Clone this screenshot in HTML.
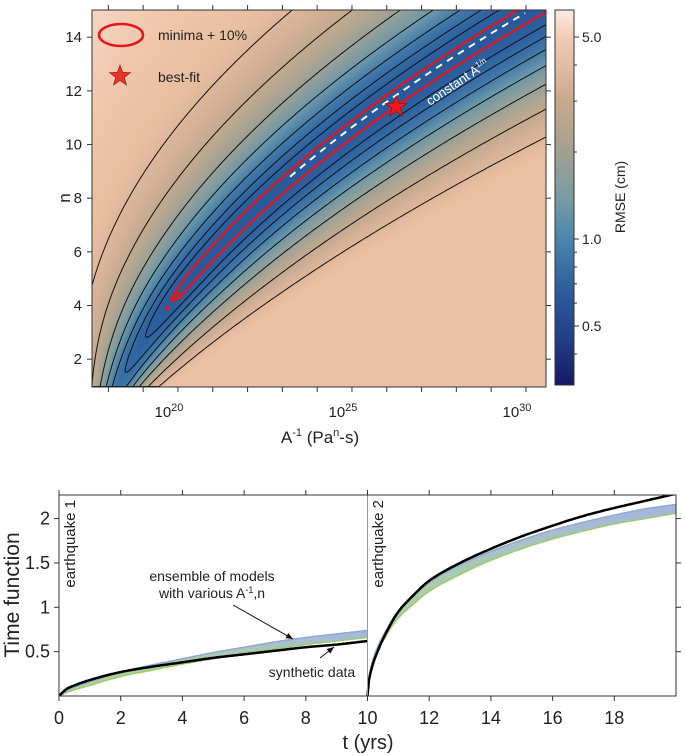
<!DOCTYPE html>
<html><head><meta charset="utf-8">
<style>
html,body{margin:0;padding:0;background:#fff;}
#wrap{position:relative;width:685px;height:755px;overflow:hidden;font-family:"Liberation Sans",sans-serif;}
#heat{position:absolute;left:92px;top:10px;}
svg{position:absolute;left:0;top:0;}
text{font-family:"Liberation Sans",sans-serif;fill:#222;}
</style></head><body>
<div id="wrap">
<canvas id="heat" width="454" height="377"></canvas>
<svg id="svg" width="685" height="755" xmlns="http://www.w3.org/2000/svg">
<defs>
<clipPath id="clipTop"><rect x="92" y="10" width="454" height="377"/></clipPath>
<clipPath id="clipBot"><rect x="59" y="495" width="617" height="201"/></clipPath>
<linearGradient id="cbGrad" x1="0" y1="0" x2="0" y2="1">
<stop offset="0" stop-color="#fcebe4"/><stop offset="0.07" stop-color="#f2cdb6"/>
<stop offset="0.24" stop-color="#c9a98c"/><stop offset="0.38" stop-color="#a2a092"/>
<stop offset="0.5" stop-color="#7a9ca4"/><stop offset="0.61" stop-color="#4a86ac"/>
<stop offset="0.75" stop-color="#2e5c9e"/><stop offset="0.88" stop-color="#213e86"/>
<stop offset="1" stop-color="#181864"/></linearGradient>
<linearGradient id="bandGrad" x1="0" y1="0" x2="0" y2="1">
<stop offset="0" stop-color="#94a8da"/><stop offset="0.35" stop-color="#9cc0a4"/><stop offset="1" stop-color="#a6d07e"/></linearGradient>
</defs>
<g id="top"></g>
<g id="bot"></g>
</svg>
</div>
<script>
// ---- top chart data ----
const valleyN=[1.5,2.8,4.5,6,8,10,11.4,15];
const valleyLogA=[18.56,19.1,20.0,20.9,22.6,24.4,26.0,30.1];
const contourLevels=[11,17,24,33,44,60,80];
const redLevel=4.8;
const bestFitLogA=26.27, bestFitN=11.4;
const xTickLogA=[20,25,30];
const xMinorLogA=[18,19,20,21,22,23,24,25,26,27,28,29,30];
const yTicksN=[2,4,6,8,10,12,14];
const cbTickVals=[5.0,1.0,0.5];
const cbTickLabels=["5.0","1.0","0.5"];
const cbMinorVals=[4,3,2,0.9,0.8,0.7,0.6,0.4];
// ---- bottom chart data ----
const t1=[0,0.25,0.5,1,2,3,4,5,6,7,8,9,10];
const synth1=[0,0.08,0.12,0.18,0.27,0.33,0.38,0.43,0.47,0.51,0.55,0.58,0.62];
const ensUp1=[0,0.06,0.1,0.16,0.27,0.35,0.42,0.49,0.55,0.61,0.66,0.7,0.74];
const ensLo1=[0,0.04,0.07,0.12,0.22,0.29,0.36,0.42,0.48,0.53,0.58,0.62,0.66];
const t2=[10,10.05,10.15,10.3,10.6,11,11.5,12,13,14,15,16,17,18,19,20];
const synth2=[0,0.18,0.33,0.48,0.71,0.95,1.14,1.3,1.5,1.66,1.8,1.92,2.03,2.12,2.2,2.28];
const ensUp2=[0,0.22,0.38,0.53,0.74,0.96,1.13,1.28,1.48,1.63,1.76,1.87,1.96,2.04,2.11,2.16];
const ensLo2=[0,0.19,0.34,0.48,0.68,0.88,1.04,1.18,1.37,1.53,1.66,1.77,1.86,1.94,2.0,2.06];
const bxTicks=[0,2,4,6,8,10,12,14,16,18];
const byTicks=[0.5,1,1.5,2];
const byTickLabels=["0.5","1","1.5","2"];

const NS="http://www.w3.org/2000/svg";
function mk(parent,tag,attrs,txt){const e=document.createElementNS(NS,tag);for(const k in attrs)e.setAttribute(k,attrs[k]);if(txt!==undefined)e.textContent=txt;parent.appendChild(e);return e;}
const topG=document.getElementById('top'), botG=document.getElementById('bot');

const xL=L=>92+(L-17.53)*34.8;
const yN=n=>386-(n-1)*26.83;
const nOfY=y=>1+(386-y)/26.83;
function smoothInterp(xs,ys,x){const k=xs.length;
 if(x<=xs[0])return ys[0]+(x-xs[0])*(ys[1]-ys[0])/(xs[1]-xs[0]);
 if(x>=xs[k-1])return ys[k-1]+(x-xs[k-1])*(ys[k-1]-ys[k-2])/(xs[k-1]-xs[k-2]);
 const d=[];for(let i=0;i<k-1;i++)d.push((ys[i+1]-ys[i])/(xs[i+1]-xs[i]));
 const m=[d[0]];for(let i=1;i<k-1;i++){m.push(d[i-1]*d[i]<=0?0:2/(1/d[i-1]+1/d[i]));}m.push(d[k-2]);
 let i=0;while(x>xs[i+1])i++;const h=xs[i+1]-xs[i],s=(x-xs[i])/h;
 const h00=2*s*s*s-3*s*s+1,h10=s*s*s-2*s*s+s,h01=-2*s*s*s+3*s*s,h11=s*s*s-s*s;
 return h00*ys[i]+h10*h*m[i]+h01*ys[i+1]+h11*h*m[i+1];}
// least-squares quadratic fit of valley
const fitQ=(function(){let S=[[0,0,0],[0,0,0],[0,0,0]],B=[0,0,0];
 valleyN.forEach((n,i)=>{const v=[1,n,n*n];for(let a=0;a<3;a++){B[a]+=v[a]*valleyLogA[i];for(let b=0;b<3;b++)S[a][b]+=v[a]*v[b];}});
 for(let c=0;c<3;c++){for(let r=c+1;r<3;r++){const f=S[r][c]/S[c][c];for(let k=c;k<3;k++)S[r][k]-=f*S[c][k];B[r]-=f*B[c];}}
 const x=[0,0,0];for(let r=2;r>=0;r--){let s=B[r];for(let k=r+1;k<3;k++)s-=S[r][k]*x[k];x[r]=s/S[r][r];}return x;})();
const cx=n=>xL(fitQ[0]+fitQ[1]*n+fitQ[2]*n*n);
const wL=n=>0.3+0.18*n, wR=n=>0.3+0.22*n;
const g=n=>Math.max(0,5.2-n)*4.6;

const stopsV=[0,12,22,32,42,55,70,90,120,150,185];
const stopsC=["#28599b","#2e62a0","#3f77a8","#6a97a8","#93a09a","#b9a78f","#d3b096","#e8bea0","#efc7ac","#f6d7c6","#fbe6dc"];
const rgb=h=>[parseInt(h.substr(1,2),16),parseInt(h.substr(3,2),16),parseInt(h.substr(5,2),16)];
const stopsRGB=stopsC.map(rgb);
function colV(v){if(v>=stopsV[stopsV.length-1])return stopsRGB[stopsRGB.length-1];
 for(let i=1;i<stopsV.length;i++){if(v<=stopsV[i]){const f=(v-stopsV[i-1])/(stopsV[i]-stopsV[i-1]);const a=stopsRGB[i-1],b=stopsRGB[i];return [a[0]+(b[0]-a[0])*f,a[1]+(b[1]-a[1])*f,a[2]+(b[2]-a[2])*f];}}}
(function(){const c=document.getElementById('heat'),ctx=c.getContext('2d');const img=ctx.createImageData(454,377);
 for(let j=0;j<377;j++){const y=10+j+0.5,n=nOfY(y),xc=cx(n),gg=g(n);
  for(let i=0;i<454;i++){const x=92+i+0.5,d=x-xc;let s=d<0?-d/wL(n):d/wR(n);let v=Math.sqrt(s*s+gg*gg);if(d>0)v=Math.min(v,100);
   const col=colV(v);const p=(j*454+i)*4;img.data[p]=col[0];img.data[p+1]=col[1];img.data[p+2]=col[2];img.data[p+3]=255;}}
 ctx.putImageData(img,0,0);})();

function contourPath(level){let left=[],right=[];
 for(let n=15.6;n>=0.98;n-=0.02){const gg=g(n);if(level<=gg)continue;const r=Math.sqrt(level*level-gg*gg);
  left.push([cx(n)-r*wL(n),yN(n)]);right.unshift([cx(n)+r*wR(n),yN(n)]);}
 const pts=left.concat(right);return 'M'+pts.map(p=>p[0].toFixed(1)+','+p[1].toFixed(1)).join('L');}
const cg=mk(topG,'g',{'clip-path':'url(#clipTop)'});
contourLevels.forEach(l=>{const e=mk(cg,'path',{d:contourPath(l),fill:'none',stroke:'#111','stroke-width':1});
 });
const red=mk(cg,'path',{d:contourPath(redLevel),fill:'none',stroke:'#e8141c','stroke-width':2.2});

const rb1=mk(cg,'path',{d:'M173,299 L177,291 L181,298 Z',fill:'none',stroke:'#e8141c','stroke-width':1.8});

const rb2=mk(cg,'ellipse',{cx:167,cy:308,rx:1.8,ry:3,fill:'#e8141c'});

let dp=[];for(let n=8.8;n<=14.9;n+=0.1)dp.push((cx(n)-2).toFixed(1)+','+yN(n).toFixed(1));
const dl=mk(cg,'path',{d:'M'+dp.join('L'),fill:'none',stroke:'#fff','stroke-width':2,'stroke-dasharray':'7,6'});

const cl=mk(topG,'text',{x:0,y:0,'font-size':13,transform:'translate(430,106) rotate(-34)',style:'fill:#fff'});

cl.innerHTML='constant A<tspan dy="-5" font-size="8">1/n</tspan>';
function starPath(x,y,R){const r=R*0.42;let p=[];for(let k=0;k<10;k++){const a=-Math.PI/2+k*Math.PI/5,rr=k%2?r:R;p.push((x+rr*Math.cos(a)).toFixed(1)+','+(y+rr*Math.sin(a)).toFixed(1));}return 'M'+p.join('L')+'Z';}
const st=mk(topG,'path',{d:starPath(xL(bestFitLogA),yN(bestFitN),11),fill:'#f01818',stroke:'#a01010','stroke-width':0.8});

const fr=mk(topG,'rect',{x:92,y:10,width:454,height:377,fill:'none',stroke:'#333','stroke-width':1});

xMinorLogA.forEach(L=>{const x=xL(L);mk(topG,'line',{x1:x,y1:387,x2:x,y2:392,stroke:'#333'});mk(topG,'line',{x1:x,y1:10,x2:x,y2:5,stroke:'#333'});});
xTickLogA.forEach(L=>{const t=mk(topG,'text',{x:xL(L)-9,y:417,'font-size':15,'text-anchor':'middle'});t.innerHTML='10<tspan dy="-6" font-size="11">'+L+'</tspan>';
 });
yTicksN.forEach(n=>{const y=yN(n);mk(topG,'line',{x1:87,y1:y,x2:92,y2:y,stroke:'#333'});mk(topG,'line',{x1:546,y1:y,x2:551,y2:y,stroke:'#333'});
 const t=mk(topG,'text',{x:82,y:y+5,'font-size':15,'text-anchor':'end'},String(n));});
const xt=mk(topG,'text',{x:320,y:443,'font-size':17,'text-anchor':'middle'});xt.innerHTML='A<tspan dy="-7" font-size="11">-1</tspan><tspan dy="7"> (Pa</tspan><tspan dy="-7" font-size="11">n</tspan><tspan dy="7">-s)</tspan>';

const yt=mk(topG,'text',{x:0,y:0,'font-size':17,'text-anchor':'middle',transform:'translate(70,198) rotate(-90)'},'n');

const le=mk(topG,'ellipse',{cx:121,cy:35,rx:22,ry:11,fill:'none',stroke:'#e8141c','stroke-width':2.5});

const lt1=mk(topG,'text',{x:158,y:40,'font-size':14},'minima + 10%');
const ls=mk(topG,'path',{d:starPath(120,76,11),fill:'#e8332a',stroke:'#a01010','stroke-width':0.6});

const lt2=mk(topG,'text',{x:158,y:82,'font-size':14},'best-fit');
const cbY=v=>37+(Math.log10(5)-Math.log10(v))*289;
const cb=mk(topG,'rect',{x:555,y:10,width:19,height:375,fill:'url(#cbGrad)',stroke:'#333','stroke-width':1});

cbMinorVals.forEach(v=>{const y=cbY(v);mk(topG,'line',{x1:574,y1:y,x2:577,y2:y,stroke:'#333'});});
cbTickVals.forEach((v,i)=>{const y=cbY(v);mk(topG,'line',{x1:574,y1:y,x2:579,y2:y,stroke:'#333'});
 const t=mk(topG,'text',{x:582,y:y+5,'font-size':14},cbTickLabels[i]);});
const cbt=mk(topG,'text',{x:0,y:0,'font-size':14,'text-anchor':'middle',transform:'translate(625,197) rotate(-90)'},'RMSE (cm)');


// ---- bottom chart ----
const bx=t=>59+t*30.85, by=v=>696-v*88.7;
const bg=mk(botG,'g',{'clip-path':'url(#clipBot)'});
function samples(ts,vs){const out=[];for(let i=0;i<ts.length-1;i++){const steps=Math.max(2,Math.ceil((ts[i+1]-ts[i])*20));for(let k=0;k<steps;k++){const t=ts[i]+(ts[i+1]-ts[i])*k/steps;out.push([bx(t),by(smoothInterp(ts,vs,t))]);}}
 out.push([bx(ts[ts.length-1]),by(vs[vs.length-1])]);return out;}
const P=a=>a.map(p=>p[0].toFixed(1)+','+p[1].toFixed(1));
function line(ts,vs){return 'M'+P(samples(ts,vs)).join('L');}
function band(ts,up,lo){return 'M'+P(samples(ts,up)).concat(P(samples(ts,lo)).reverse()).join('L')+'Z';}
[[t1,ensUp1,ensLo1,'ensemble-band-eq1'],[t2,ensUp2,ensLo2,'ensemble-band-eq2']].forEach(s=>{
 const b=mk(bg,'path',{d:band(s[0],s[1],s[2]),fill:'url(#bandGrad)',opacity:0.85});
 const u=mk(bg,'path',{d:line(s[0],s[1]),fill:'none',stroke:'#93a6d8','stroke-width':1.5});
 const l=mk(bg,'path',{d:line(s[0],s[2]),fill:'none',stroke:'#9ccd6a','stroke-width':1.5});});
[[t1,synth1,'synthetic-data-eq1'],[t2,synth2,'synthetic-data-eq2']].forEach(s=>{
 const p=mk(bg,'path',{d:line(s[0],s[1]),fill:'none',stroke:'#000','stroke-width':2.5,'stroke-linejoin':'round'});});
const div=mk(botG,'line',{x1:bx(10),y1:495,x2:bx(10),y2:696,stroke:'#999','stroke-width':1});

const bf=mk(botG,'rect',{x:59,y:495,width:617,height:201,fill:'none',stroke:'#333','stroke-width':1});

bxTicks.forEach(t=>{const x=bx(t);mk(botG,'line',{x1:x,y1:696,x2:x,y2:701,stroke:'#333'});mk(botG,'line',{x1:x,y1:495,x2:x,y2:490,stroke:'#333'});
 const e=mk(botG,'text',{x:x,y:724,'font-size':18,'text-anchor':'middle'},String(t));});
byTicks.forEach((v,i)=>{const y=by(v);mk(botG,'line',{x1:54,y1:y,x2:59,y2:y,stroke:'#333'});mk(botG,'line',{x1:676,y1:y,x2:681,y2:y,stroke:'#333'});
 const e=mk(botG,'text',{x:50,y:y+6,'font-size':18,'text-anchor':'end'},byTickLabels[i]);});
const bxt=mk(botG,'text',{x:368,y:749,'font-size':20,'text-anchor':'middle'},'t (yrs)');
const byt=mk(botG,'text',{x:0,y:0,'font-size':21,'text-anchor':'middle',transform:'translate(19,595) rotate(-90)'},'Time function');
const e1=mk(botG,'text',{x:0,y:0,'font-size':15,'text-anchor':'end',transform:'translate(75,500) rotate(-90)'},'earthquake 1');
const e2=mk(botG,'text',{x:0,y:0,'font-size':15,'text-anchor':'end',transform:'translate(383,500) rotate(-90)'},'earthquake 2');
const a1=mk(botG,'text',{x:212,y:581,'font-size':14,'text-anchor':'middle'},'ensemble of models');
const a2=mk(botG,'text',{x:212,y:598,'font-size':14,'text-anchor':'middle'});a2.innerHTML='with various A<tspan dy="-5" font-size="9">-1</tspan><tspan dy="5">,n</tspan>';
const a3=mk(botG,'text',{x:312,y:677,'font-size':14,'text-anchor':'middle'},'synthetic data');
function arrow(x1,y1,x2,y2,name){const gg=mk(botG,'g',{});
 mk(gg,'line',{x1:x1,y1:y1,x2:x2,y2:y2,stroke:'#111','stroke-width':1});const a=Math.atan2(y2-y1,x2-x1),L=7,W=3;
 const p1=[x2-L*Math.cos(a)+W*Math.sin(a),y2-L*Math.sin(a)-W*Math.cos(a)],p2=[x2-L*Math.cos(a)-W*Math.sin(a),y2-L*Math.sin(a)+W*Math.cos(a)];
 mk(gg,'path',{d:`M${x2},${y2}L${p1[0]},${p1[1]}L${p2[0]},${p2[1]}Z`,fill:'#111'});}
arrow(233,605,293,639,'ensemble-arrow');
arrow(320,658,334,647,'synthetic-arrow');
</script>
</body></html>
